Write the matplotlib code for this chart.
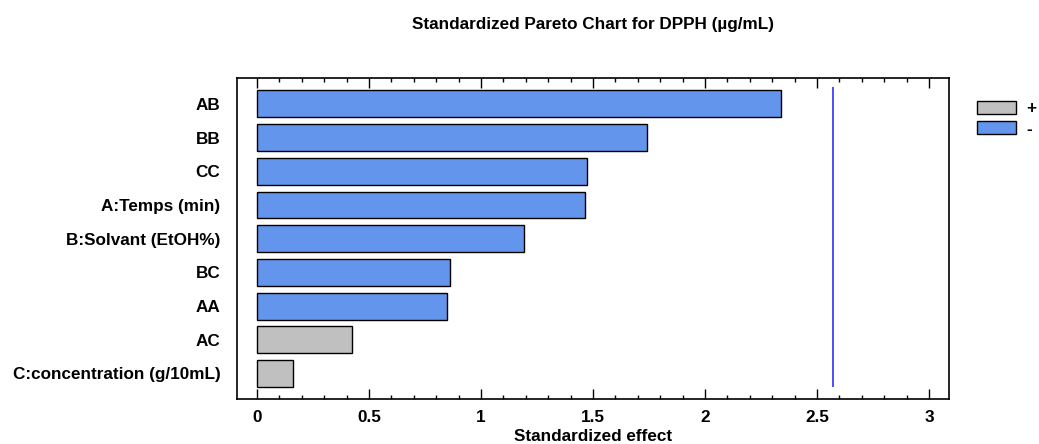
import matplotlib
matplotlib.use("Agg")
import matplotlib.pyplot as plt
from matplotlib.patches import Patch
from matplotlib.ticker import MultipleLocator

# effets standardisés (valeurs absolues), du plus grand au plus petit
effets = ["AB", "BB", "CC", "A:Temps (min)", "B:Solvant (EtOH%)",
          "BC", "AA", "AC", "C:concentration (g/10mL)"]
valeurs = [2.339, 1.742, 1.472, 1.463, 1.190, 0.863, 0.848, 0.426, 0.163]
signes = ["-", "-", "-", "-", "-", "-", "-", "+", "+"]
t_critique = 2.571

couleurs = {"+": "#C0C0C0", "-": "#6495ED"}
fs = 12.3

plt.rcParams["font.family"] = ["Liberation Sans", "DejaVu Sans"]
plt.rcParams["font.weight"] = "bold"

fig = plt.figure(figsize=(10.39, 4.44), dpi=100)
ax = fig.add_axes([237 / 1039, 1 - 399 / 444, 712 / 1039, 321 / 444])

pos = list(range(len(effets) - 1, -1, -1))
ax.barh(pos, valeurs, height=0.8, color=[couleurs[s] for s in signes],
        edgecolor="black", linewidth=1.0)
# seuil de significativité
ax.vlines(t_critique, pos[-1] - 0.4, pos[0] + 0.5, color="#3030FF", linewidth=1.2)

ax.set_xlim(-0.089, 3.089)
ax.set_ylim(-0.76, 8.77)
ax.set_yticks(pos)
ax.set_yticklabels(effets, fontsize=fs, fontweight="bold")
ax.tick_params(axis="y", length=0, pad=12)

ax.xaxis.set_minor_locator(MultipleLocator(0.1))
ax.set_xticks([0, 0.5, 1, 1.5, 2, 2.5, 3])
ax.set_xticklabels(["0", "0.5", "1", "1.5", "2", "2.5", "3"], fontsize=fs, fontweight="bold")
ax.tick_params(axis="x", which="major", direction="in", length=7, width=1,
               top=True, pad=8)
ax.tick_params(axis="x", which="minor", direction="in", length=3, width=1, top=True)
for s in ax.spines.values():
    s.set_linewidth(1.2)

ax.set_xlabel("Standardized effect", fontsize=fs, fontweight="bold", labelpad=3)
fig.suptitle("Standardized Pareto Chart for DPPH (µg/mL)", x=593 / 1039,
             y=1 - 25 / 444, va="center", fontsize=fs, fontweight="bold")

legende = [Patch(facecolor=couleurs["+"], edgecolor="black", label="+"),
           Patch(facecolor=couleurs["-"], edgecolor="black", label="-")]
fig.legend(handles=legende, loc="upper left", bbox_to_anchor=(972 / 1039, 1 - 96 / 444),
           frameon=False, handlelength=2.3, handleheight=0.75, handletextpad=0.6,
           labelspacing=0.3, borderpad=0.3, borderaxespad=0,
           prop={"weight": "bold", "size": fs})

fig.savefig("out.png", dpi=100)
